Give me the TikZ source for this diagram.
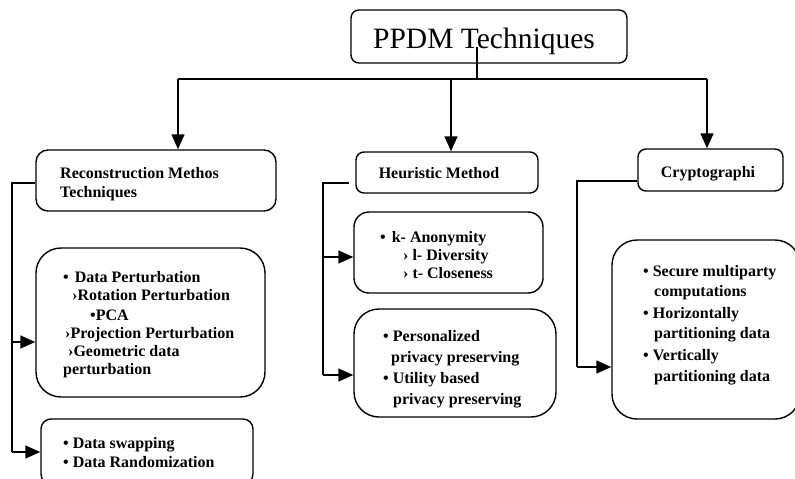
\documentclass[tikz,border=0pt]{standalone}
\usepackage{fontspec}
\setmainfont{Liberation Serif}
\usetikzlibrary{arrows.meta}
\begin{document}
\begin{tikzpicture}[x=1pt,y=-1pt,
  box/.style={draw,line width=1.4pt,inner sep=0pt,rounded corners=#1},
  box/.default=8pt,
  conn/.style={line width=1.4pt},
  arr/.style={line width=1.4pt,-{Triangle[length=15pt,width=13pt]}},
  bf/.style={font=\bfseries\fontsize{16}{18}\selectfont},
  txt/.style={bf,inner sep=0pt,anchor=base west},
  ctxt/.style={bf,inner sep=0pt,anchor=base}]
\useasboundingbox (0,0) rectangle (795,479);
% boxes
\node[box=8pt,minimum width=276pt,minimum height=53pt] (top) at (489,36.5) {};
\node[box=12pt,minimum width=240pt,minimum height=61pt] (recon) at (156,180.5) {};
\node[box=25pt,minimum width=229pt,minimum height=149pt] (pert) at (150.5,322.5) {};
\node[box=10pt,minimum width=212pt,minimum height=65pt] (swap) at (147,451.5) {};
\node[box=8pt,minimum width=182pt,minimum height=41pt] (heur) at (447,172.5) {};
\node[box=15pt,minimum width=189pt,minimum height=81pt] (kanon) at (448.5,252.5) {};
\node[box=25pt,minimum width=202pt,minimum height=108pt] (pers) at (455,363) {};
\node[box=8pt,minimum width=145pt,minimum height=42pt] (crypt) at (710.5,170) {};
\node[box=25pt,minimum width=188pt,minimum height=179pt] (secure) at (706,329.5) {};
% texts
\node[inner sep=0pt,anchor=base,font=\fontsize{29.5}{31}\selectfont] (tt) at (484,48) {PPDM Techniques};
\node[txt] (ra) at (60,178) {Reconstruction Methos};
\node[txt] (rb) at (60,197) {Techniques};
\node[txt] (pa) at (63,282) {•\hspace{6pt}Data Perturbation};
\node[txt] (pb) at (72,300) {›Rotation Perturbation};
\node[txt] (pc) at (90,320) {•PCA};
\node[txt] (pd) at (65,338) {›Projection Perturbation};
\node[txt] (pe) at (68,356) {›Geometric data};
\node[txt] (pf) at (63,374) {perturbation};
\node[txt] (sa) at (63,448) {• Data swapping};
\node[txt] (sb) at (63,467) {• Data Randomization};
\node[ctxt] (ht) at (439,178) {Heuristic Method};
\node[txt] (ka) at (380,242) {•\hspace{6pt}k- Anonymity};
\node[txt] (kb) at (403,260) {› l- Diversity};
\node[txt] (kc) at (403,278) {› t- Closeness};
\node[txt] (qa) at (383,341) {• Personalized};
\node[txt] (qb) at (391,362) {privacy preserving};
\node[txt] (qc) at (383,383) {• Utility based};
\node[txt] (qd) at (393,404) {privacy preserving};
\node[ctxt] (ct) at (708,177) {Cryptographi};
\node[txt] (ua) at (643,276) {• Secure multiparty};
\node[txt] (ub) at (654,296) {computations};
\node[txt] (uc) at (643,318) {• Horizontally};
\node[txt] (ud) at (654,338) {partitioning data};
\node[txt] (ue) at (643,360) {• Vertically};
\node[txt] (uf) at (654,381) {partitioning data};
% top connectors
\coordinate (t0) at (477,47);
\coordinate (tj) at (477,79);
\coordinate (hl) at (178,79);
\coordinate (hm) at (451,79);
\coordinate (hr) at (707,79);
\draw[conn] (t0) -- (tj);
\draw[conn] (hl) -- (hr);
\draw[arr] (hl) -- (hl |- recon.north);
\draw[arr] (hm) -- (hm |- heur.north);
\draw[arr] (hr) -- (hr |- crypt.north);
% left tree
\coordinate (l0) at (12,183);
\coordinate (l1) at (12,342);
\coordinate (l2) at (12,452);
\draw[conn] (recon.west |- l0) -- (l0) -- (l2);
\draw[arr] (l1) -- (l1 -| pert.west);
\draw[arr] (l2) -- (l2 -| swap.west);
% middle tree
\coordinate (m0) at (349,183);
\coordinate (mc) at (323,183);
\coordinate (m1) at (323,257);
\coordinate (m2) at (323,375);
\draw[conn] (m0) -- (mc) -- (m2);
\draw[arr] (m1) -- (m1 -| kanon.west);
\draw[arr] (m2) -- (m2 -| pers.west);
% right tree
\coordinate (r0) at (577,181);
\coordinate (r1) at (577,367);
\draw[conn] (crypt.west |- r0) -- (r0) -- (r1);
\draw[arr] (r1) -- (r1 -| secure.west);
\end{tikzpicture}
\end{document}
